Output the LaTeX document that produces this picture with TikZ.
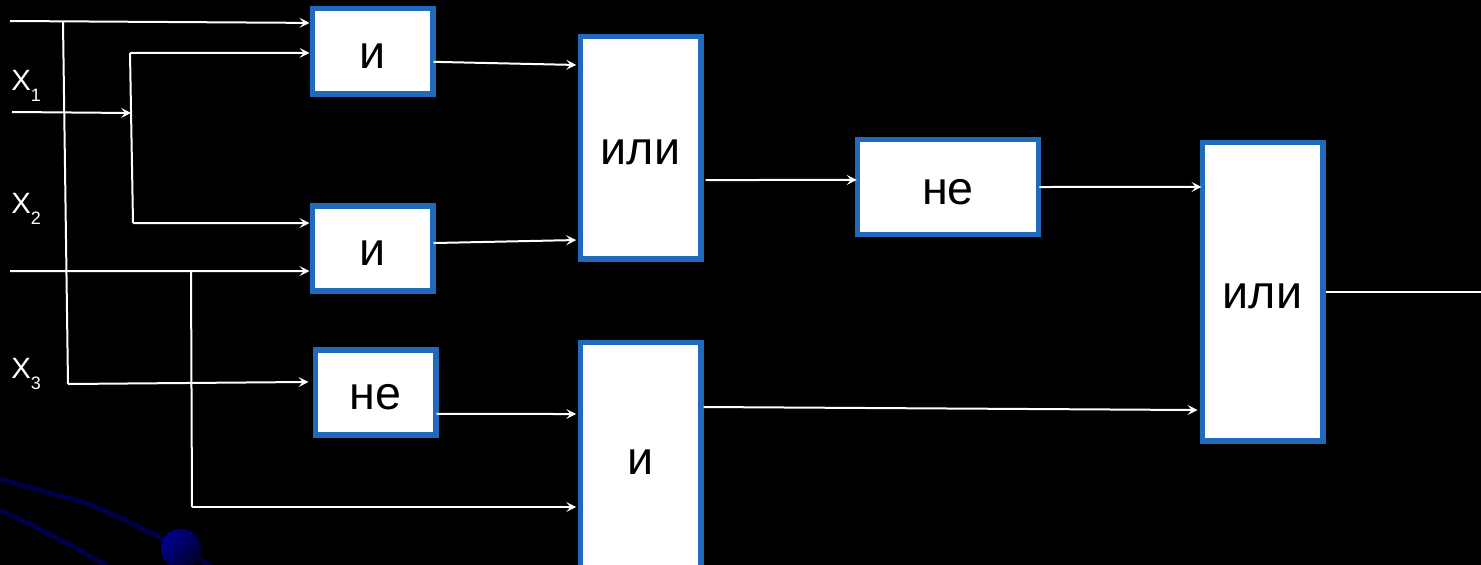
\documentclass[tikz,border=0pt]{standalone}
\usepackage{fontspec}
\setmainfont{Liberation Sans}
\usetikzlibrary{arrows.meta,calc}
\newcommand{\xlab}[1]{\fontsize{22}{24}\selectfont X\raisebox{-8.5pt}{\fontsize{13.5}{15}\selectfont #1}}
\tikzset{
  gate/.style={draw=gateblue,line width=4pt,fill=white,inner sep=0pt,outer sep=2pt,text=black,text height=26pt,text depth=0pt,font=\fontsize{35}{38}\selectfont},
  wire/.style={draw=white,line width=1.5pt},
  arrowwire/.style={wire,-{Stealth[length=7.5pt,width=7.5pt,inset=3.2pt]}},
  inlabel/.style={text=white,anchor=base west,inner sep=0pt},
  orbit/.style={draw=navyline,line width=3.6pt}
}
\definecolor{gateblue}{HTML}{1F6ABA}
\definecolor{navyline}{HTML}{00004A}
\definecolor{ballA}{HTML}{000090}
\definecolor{ballB}{HTML}{00002C}
\begin{document}
\begin{tikzpicture}[x=0.75pt,y=-0.75pt]
\useasboundingbox (0,0) rectangle (1481,564);
\fill[black] (-5,-5) rectangle (1486,570);
% backdrop
\draw[orbit] (-3,478) .. controls (40,491) and (70,498) .. (85,503) .. controls (120,516) and (170,542) .. (212,567);
\draw[orbit] (-3,509) .. controls (35,526) and (70,544) .. (110,568);
\shade[left color=ballA,right color=ballB,shading angle=50] (181,549) circle (20);
% gates
\node[gate,minimum width=90.5pt,minimum height=63.9pt] (i1) at (372.5,51.3) {и};
\node[gate,minimum width=90.5pt,minimum height=63.9pt] (i2) at (372.5,248.5) {и};
\node[gate,minimum width=90.5pt,minimum height=63.9pt] (ne1) at (375.5,392.5) {не};
\node[gate,minimum width=90.5pt,minimum height=167pt] (or1) at (640.5,147.5) {или};
\node[gate,minimum width=90.5pt,minimum height=172pt] (i3) at (640.5,457) {и};
\node[gate,minimum width=136pt,minimum height=71.5pt] (ne2) at (948,187) {не};
\node[gate,minimum width=90.5pt,minimum height=224pt] (or2) at (1262.5,291.5) {или};
% labels
\node[inlabel] (x1) at (11,90) {\xlab{1}};
\node[inlabel] (x2) at (11,213) {\xlab{2}};
\node[inlabel] (x3) at (11,378) {\xlab{3}};
% free ends and junctions
\coordinate (a0) at (10,21);
\coordinate (a1) at (63,22);
\coordinate (a2) at (68,384);
\coordinate (b0) at (12,112);
\coordinate (b1) at (131,113);
\coordinate (b2) at (130,53);
\coordinate (b3) at (133,223);
\coordinate (c0) at (10,271);
\coordinate (c1) at (191,271);
\coordinate (c2) at (192,507);
\coordinate (out) at (1481,291);
% inputs
\draw[arrowwire] (a0) -- ([yshift=21.3pt]i1.west);
\draw[wire] (a1) -- (a2);
\draw[arrowwire] (a2) -- ([yshift=7.9pt,xshift=-3pt]ne1.west);
\draw[arrowwire] (b0) -- (b1);
\draw[wire] (b2) -- (b3);
\draw[arrowwire] (b2) -- ([yshift=-1.2pt]i1.west);
\draw[arrowwire] (b3) -- ([yshift=19.1pt]i2.west);
\draw[arrowwire] (c0) -- ([yshift=-16.9pt]i2.west);
\draw[wire] (c1) -- (c2);
\draw[arrowwire] (c2) -- ([yshift=-37.5pt,xshift=-1pt]i3.west);
% gate to gate
\draw[arrowwire] ([yshift=-7.9pt,xshift=-1.5pt]i1.east) -- ([yshift=61.9pt,xshift=-1pt]or1.west);
\draw[arrowwire] ([yshift=4.1pt,xshift=-1.5pt]i2.east) -- ([yshift=-69.4pt,xshift=-1pt]or1.west);
\draw[arrowwire] ([yshift=-24.4pt,xshift=1.5pt]or1.east) -- ([yshift=5.3pt,xshift=1.5pt]ne2.west);
\draw[arrowwire] ([xshift=-1.5pt]ne2.east) -- ([yshift=78.4pt,xshift=1.5pt]or2.west);
\draw[arrowwire] ([yshift=-16.1pt,xshift=-1.5pt]ne1.east) -- ([yshift=32.25pt,xshift=-1pt]i3.west);
\draw[arrowwire] ([yshift=37.5pt]i3.east) -- ([yshift=-88.9pt,xshift=-1.5pt]or2.west);
\draw[wire] (or2.east) -- (out |- or2.east);
\end{tikzpicture}
\end{document}
